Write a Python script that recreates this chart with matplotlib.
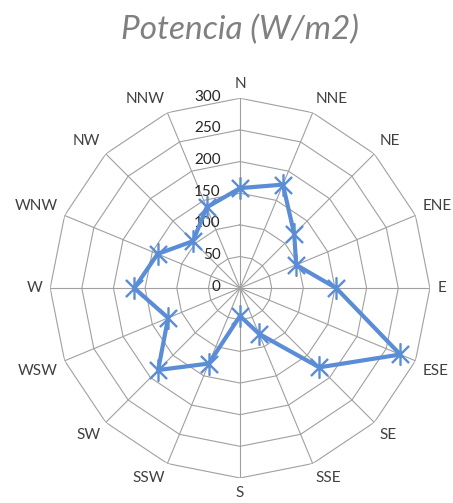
import numpy as np
import matplotlib.pyplot as plt
from matplotlib.path import Path

# data
directions = ["N", "NNE", "NE", "ENE", "E", "ESE", "SE", "SSE",
              "S", "SSW", "SW", "WSW", "W", "WNW", "NW", "NNW"]
potencia = [158, 177, 121, 96, 152, 274, 177, 78,
            44, 129, 183, 123, 167, 141, 105, 138]
r_ticks = [0, 50, 100, 150, 200, 250, 300]

blue = "#5A8DD6"
grid_c = "#A0A0A0"
text_c = "#404040"
plt.rcParams['font.family'] = ['Lato', 'DejaVu Sans']

n = len(directions)
theta = np.arange(n) * 2 * np.pi / n

# excel-like star marker: X plus a vertical bar
star = Path([(-1, -1), (1, 1), (-1, 1), (1, -1), (0, -1.3), (0, 1.3)],
            [Path.MOVETO, Path.LINETO, Path.MOVETO, Path.LINETO,
             Path.MOVETO, Path.LINETO])

fig = plt.figure(figsize=(4.53, 5.03), dpi=100)
ax = fig.add_axes([0.1104, 0.0497, 0.839, 0.755], projection='polar')
ax.set_theta_zero_location('N')
ax.set_theta_direction(-1)
ax.set_ylim(0, 300)
ax.grid(False)
ax.spines['polar'].set_visible(False)
ax.set_xticks([])
ax.set_yticks([])
ax.patch.set_alpha(0)

# polygon grid
th_closed = np.append(theta, theta[0])
for r in r_ticks[1:]:
    ax.plot(th_closed, [r] * (n + 1), color=grid_c, lw=0.8, zorder=1)
for t in theta:
    ax.plot([t, t], [0, 300], color=grid_c, lw=0.8, zorder=1)

# radial labels
for r in r_ticks:
    ax.annotate(str(r), (0, r), xytext=(-14, 1), textcoords='offset points',
                ha='right', va='center', fontsize=11, color='#262626', zorder=2)

# direction labels
for t, lab in zip(theta, directions):
    s, c = np.sin(t), np.cos(t)
    ha = 'center' if abs(s) < 0.1 else ('left' if s > 0 else 'right')
    va = 'center' if abs(c) < 0.1 else ('bottom' if c > 0 else 'top')
    ax.text(t, 312, lab, ha=ha, va=va, fontsize=11, color=text_c)

# data series
vals = np.append(potencia, potencia[0])
ax.plot(th_closed, vals, color=blue, lw=3.0, zorder=3)
ax.plot(theta, potencia, ls='none', marker=star, ms=16, mew=1.7,
        color=blue, zorder=4)

fig.text(0.53, 0.94, "Potencia (W/m2)", ha='center', va='center',
         fontsize=24, style='italic', color='#808080')

fig.savefig("out.png", dpi=100)
